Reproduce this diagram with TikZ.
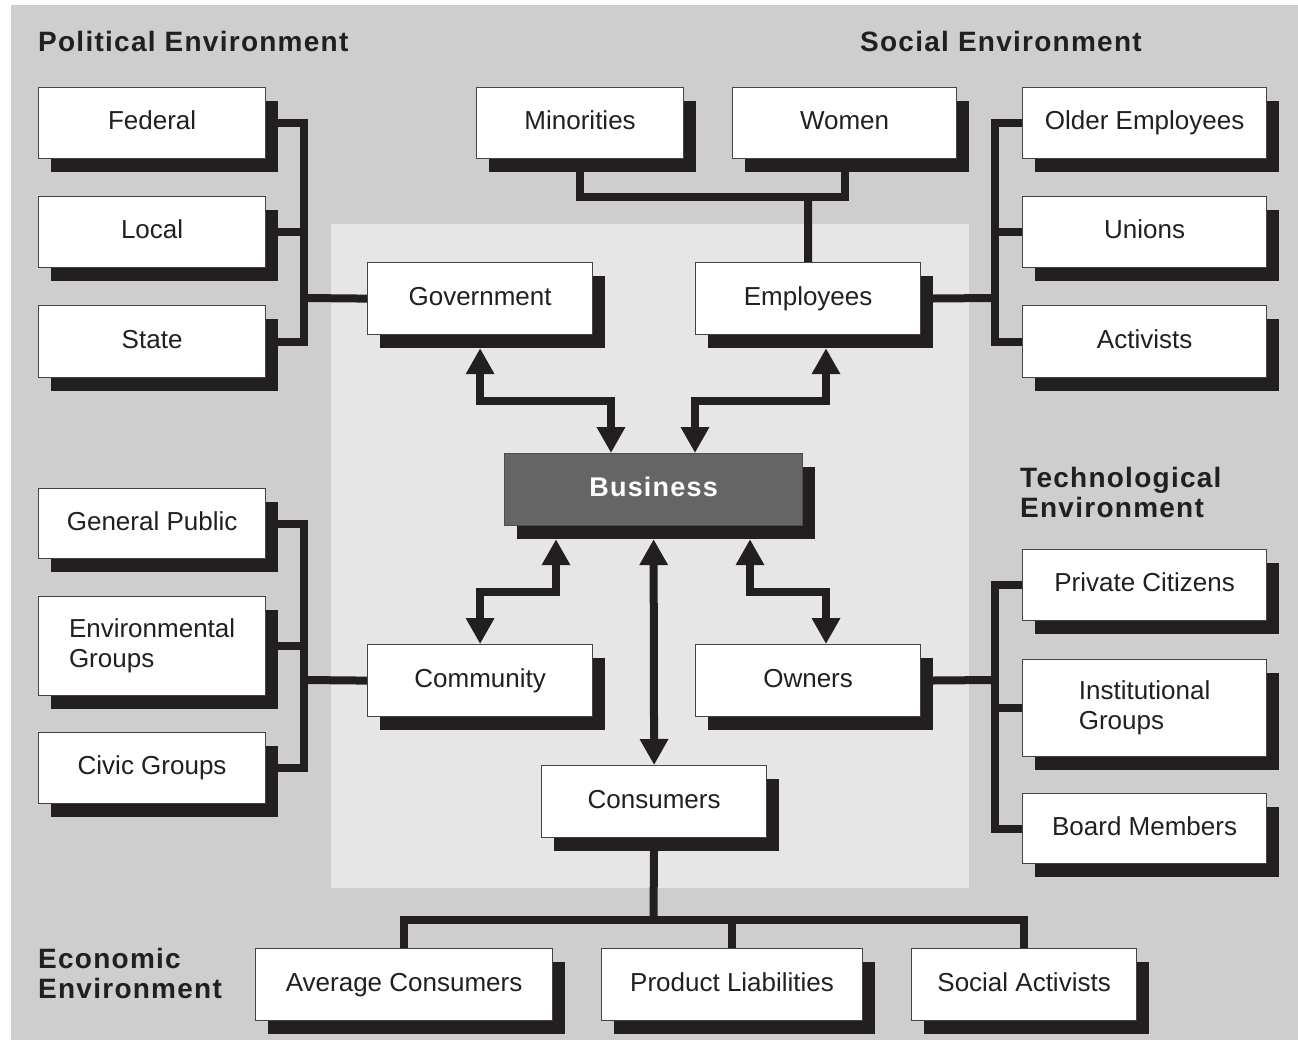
\documentclass[tikz,border=0pt]{standalone}
\usepackage{fontspec}
\setmainfont{Liberation Sans}
\newfontfamily\titlefont[LetterSpace=4.5]{Liberation Sans}
\usetikzlibrary{arrows.meta,shadows,calc}
\definecolor{outerbg}{HTML}{CECECE}
\definecolor{innerbg}{HTML}{E6E6E6}
\definecolor{ink}{HTML}{231F20}
\definecolor{edge}{HTML}{444444}
\definecolor{bizfill}{HTML}{656565}
\pgfdeclarelayer{bg}
\pgfdeclarelayer{lines}
\pgfsetlayers{bg,lines,main}
\tikzset{
  boxbase/.style={draw=edge, line width=1.2pt, fill=white, inner sep=0pt, anchor=north west,
    text=ink, font=\fontsize{26}{30}\selectfont,
    drop shadow={shadow xshift=12pt, shadow yshift=-13pt, fill=ink, opacity=1}},
  box/.style={boxbase, text height=19pt, text depth=5.5pt},
  boxtwo/.style={boxbase, align=left},
  title/.style={inner sep=0pt, text=ink, font=\titlefont\bfseries\fontsize{28}{30}\selectfont, align=left},
  conn/.style={draw=ink, line width=8pt, line join=miter},
  arr/.style={conn, {Triangle[width=27pt,length=26pt]}-{Triangle[width=27pt,length=26pt]}},
}
\begin{document}
\begin{tikzpicture}[x=1pt,y=-1pt]
\useasboundingbox (0,0) rectangle (1298,1040);
\begin{pgfonlayer}{bg}
  \fill[white] (0,0) rectangle (1298,1040);
  \fill[outerbg] (11,5) rectangle (1298,1040);
  \fill[innerbg] (331,224) rectangle (969,888);
\end{pgfonlayer}

% titles
\node[title, anchor=base west] (tpol) at (38,52) {Political Environment};
\node[title, anchor=base west] (tsoc) at (860,52) {Social Environment};
\node[title, anchor=north west] (ttec) at (1020,467) {Technological\\Environment};
\node[title, anchor=north west] (teco) at (38,948) {Economic\\Environment};

% left column
\node[box, minimum width=227pt, minimum height=71pt] (fed) at (38,87) {Federal};
\node[box, minimum width=227pt, minimum height=71pt] (loc) at (38,196) {Local};
\node[box, minimum width=227pt, minimum height=72pt] (sta) at (38,305) {State};
\node[box, minimum width=227pt, minimum height=70pt] (gp) at (38,488) {General Public};
\node[boxtwo, minimum width=227pt, minimum height=99pt] (env) at (38,596) {Environmental\\Groups};
\node[box, minimum width=227pt, minimum height=71pt] (civ) at (38,732) {Civic Groups};

% right column
\node[box, minimum width=244pt, minimum height=71pt] (old) at (1022,87) {Older Employees};
\node[box, minimum width=244pt, minimum height=71pt] (uni) at (1022,196) {Unions};
\node[box, minimum width=244pt, minimum height=72pt] (act) at (1022,305) {Activists};
\node[box, minimum width=244pt, minimum height=71pt] (pri) at (1022,549) {Private Citizens};
\node[boxtwo, minimum width=244pt, minimum height=97pt] (ins) at (1022,659) {Institutional\\Groups};
\node[box, minimum width=244pt, minimum height=70pt] (brd) at (1022,793) {Board Members};

% top
\node[box, minimum width=207pt, minimum height=71pt] (mino) at (476,87) {Minorities};
\node[box, minimum width=224pt, minimum height=71pt] (wom) at (732,87) {Women};

% inner
\node[box, minimum width=225pt, minimum height=72pt] (gov) at (367,262) {Government};
\node[box, minimum width=225pt, minimum height=72pt] (emp) at (695,262) {Employees};
\node[box, minimum width=298pt, minimum height=72pt, fill=bizfill, draw=ink!80, text=white,
      font=\titlefont\bfseries\fontsize{27}{30}\selectfont] (biz) at (504,453) {Business};
\node[box, minimum width=225pt, minimum height=72pt] (com) at (367,644) {Community};
\node[box, minimum width=225pt, minimum height=72pt] (own) at (695,644) {Owners};
\node[box, minimum width=225pt, minimum height=72pt] (con) at (541,765) {Consumers};

% bottom
\node[box, minimum width=297pt, minimum height=72pt] (avg) at (255,948) {Average Consumers};
\node[box, minimum width=261pt, minimum height=72pt] (pro) at (601,948) {Product Liabilities};
\node[box, minimum width=225pt, minimum height=72pt] (soc) at (911,948) {Social Activists};

\coordinate (lj1) at (304,298);
\coordinate (lj2) at (304,680);
\coordinate (rj1) at (995,298);
\coordinate (rj2) at (995,680);
\coordinate (tj) at (808,197);
\coordinate (bj) at (653.5,920);

\begin{pgfonlayer}{lines}
  \draw[conn] (fed.east) -| (lj1) |- (sta.east);
  \draw[conn] (loc.east) -- (loc.east -| lj1);
  \draw[conn] (lj1) -- (gov.west);
  \draw[conn] (gp.east) -| (lj2) |- (civ.east);
  \draw[conn] (env.east) -- (env.east -| lj2);
  \draw[conn] (lj2) -- (com.west);
  \draw[conn] (old.west) -| (rj1) |- (act.west);
  \draw[conn] (uni.west) -- (uni.west -| rj1);
  \draw[conn] (emp.east) -- (rj1);
  \draw[conn] (pri.west) -| (rj2) |- (brd.west);
  \draw[conn] (ins.west) -- (ins.west -| rj2);
  \draw[conn] (own.east) -- (rj2);
  \draw[conn] (mino.south) |- (tj) -| (wom.south);
  \draw[conn] (tj) -- (emp.north);
  \draw[conn] (avg.north) |- (bj) -| (soc.north);
  \draw[conn] (con.south) -- (bj);
  \draw[conn] (pro.north) -- (pro.north |- bj);
\end{pgfonlayer}

\draw[arr] ($(gov.south)+(0,13)$) -- ++(0,53) -| ($(biz.north west)+(107,0)$);
\draw[arr] ($(emp.south west)+(131,13)$) -- ++(0,53) -| ($(biz.north west)+(191,0)$);
\draw[arr] ($(biz.south west)+(52,13)$) -- ++(0,53) -| (com.north);
\draw[arr] ($(biz.south west)+(246,13)$) -- ++(0,53) -| ($(own.north west)+(131,0)$);
\draw[arr] ($(biz.south)+(0,13)$) -- (con.north);
\end{tikzpicture}
\end{document}
